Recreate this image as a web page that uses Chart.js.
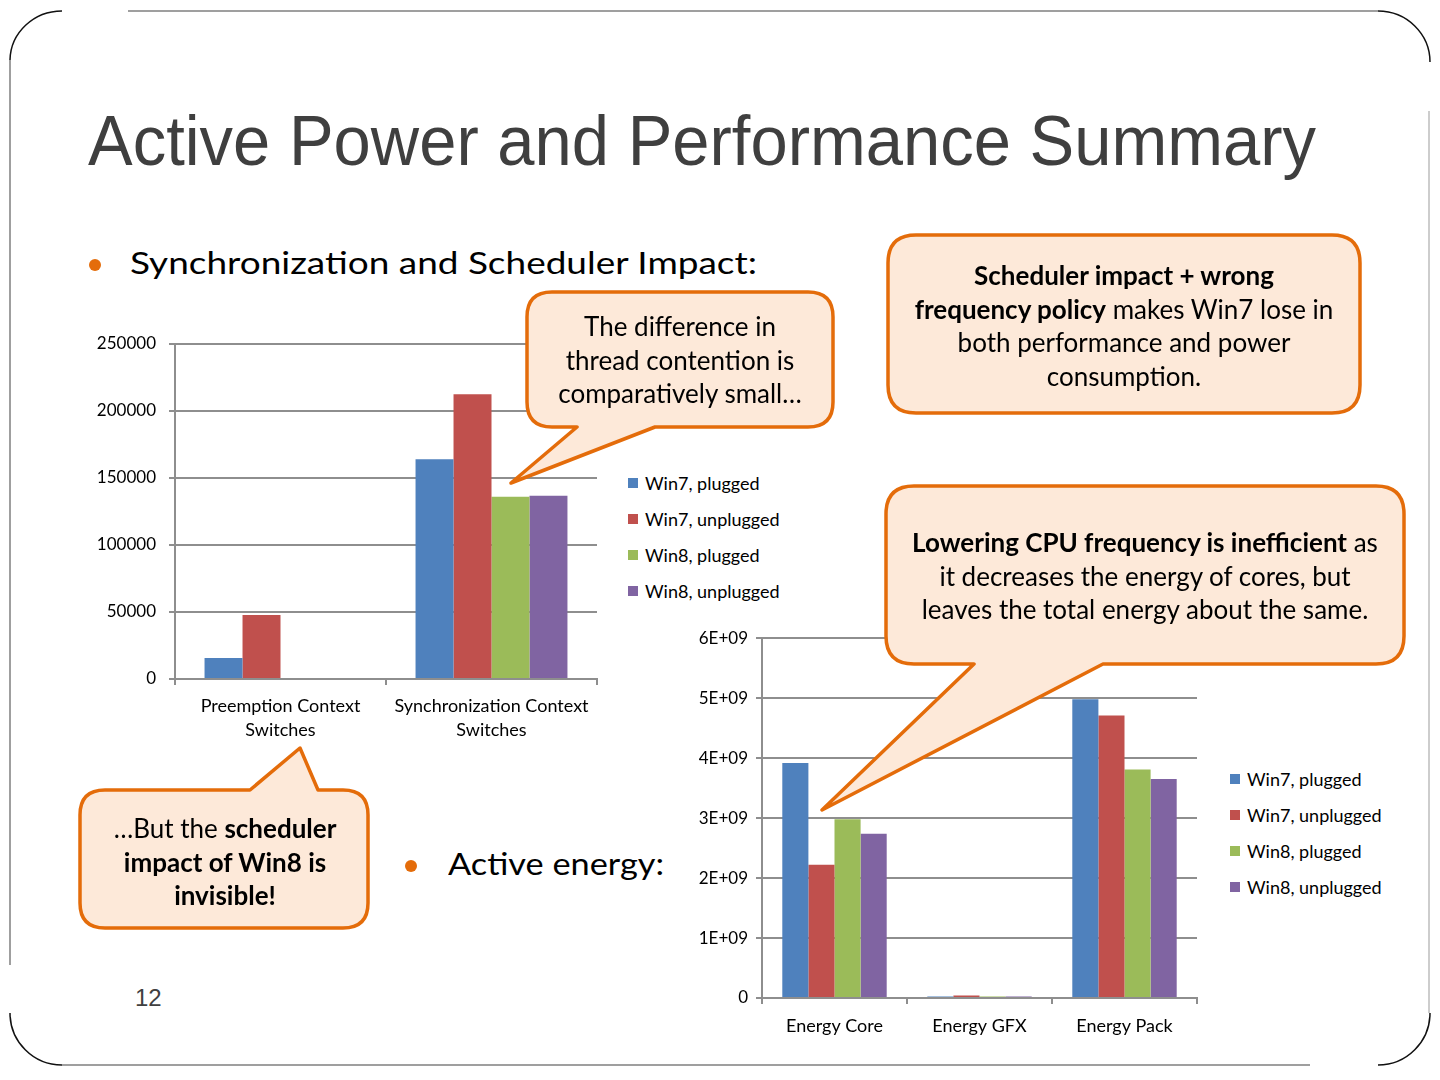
<!DOCTYPE html>
<html>
<head>
<meta charset="utf-8">
<script src="https://cdn.jsdelivr.net/npm/chart.js@4.4.1/dist/chart.umd.min.js"></script>
<style>
html,body{margin:0;padding:0;background:#fff;}
body{width:1440px;height:1080px;position:relative;overflow:hidden;font-family:Lato,sans-serif;}
#frame,#bubbles{position:absolute;left:0;top:0;}
#bubbles{z-index:3;}
.abs{position:absolute;white-space:nowrap;}
.fit{transform-origin:0 0;}
#title{left:88px;top:106px;font:70px/70px "Liberation Sans",sans-serif;color:#3f3f3f;}
.bul{font-size:30px;line-height:36px;color:#000;}
.dot{position:absolute;width:12px;height:12px;border-radius:50%;background:#e46c0a;}
.note{z-index:4;text-align:center;font-size:26px;line-height:33.5px;color:#000;}
.note b{font-weight:700;}
#pgnum{left:135px;top:983px;font:24px/30px "Liberation Sans",sans-serif;color:#404040;}
.cv{position:absolute;z-index:1;}
.legend{position:absolute;z-index:2;font-size:18px;color:#000;}
.legend div{height:36px;line-height:36px;position:relative;padding-left:17px;white-space:nowrap;}
.legend span{position:absolute;left:0;top:13px;width:10px;height:10px;}
</style>
</head>
<body>
<svg id="frame" width="1440" height="1080">
  <g fill="none" stroke-width="1.5">
    <path d="M10 60 V965" stroke="#7f7f7f"/>
    <path d="M10 60 A52 50 0 0 1 62 11" stroke="#111"/>
    <path d="M128 11 H1378" stroke="#7f7f7f"/>
    <path d="M1378 11 A52 51 0 0 1 1430 62" stroke="#111"/>
    <path d="M1429 111 V1013" stroke="#bdbdbd"/>
    <path d="M10 1013 A52 52 0 0 0 62 1065" stroke="#111"/>
    <path d="M62 1065 H1310" stroke="#7f7f7f"/>
    <path d="M1378 1065 A52 52 0 0 0 1430 1013" stroke="#111"/>
  </g>
</svg>

<div id="title" class="abs fit" data-w="1228">Active Power and Performance Summary</div>
<div class="dot" style="left:89px;top:259px"></div>
<div class="abs bul fit" data-w="627" style="left:130px;top:244px">Synchronization and Scheduler Impact:</div>
<div class="dot" style="left:405px;top:860px"></div>
<div class="abs bul fit" data-w="216" style="left:448px;top:845px">Active energy:</div>
<div id="pgnum" class="abs">12</div>

<canvas id="ctxChart" class="cv" style="left:90px;top:318px" width="520" height="432"></canvas>
<canvas id="energyChart" class="cv" style="left:680px;top:620px" width="540" height="430"></canvas>
<div id="legend1" class="legend" style="left:628px;top:465px"></div>
<div id="legend2" class="legend" style="left:1230px;top:761px"></div>

<svg id="bubbles" width="1440" height="1080">
  <g fill="#fde9d9" stroke="#e46c0a" stroke-width="3.5" stroke-linejoin="round">
    <path d="M552 292 H808 Q833 292 833 317 V402 Q833 427 808 427 H655 L511 483 L577 427 H552 Q527 427 527 402 V317 Q527 292 552 292 Z"/>
    <path d="M916 235 H1332 Q1360 235 1360 263 V385 Q1360 413 1332 413 H916 Q888 413 888 385 V263 Q888 235 916 235 Z"/>
    <path d="M914 486 H1376 Q1404 486 1404 514 V636 Q1404 664 1376 664 H1103 L822 810 L974 664 H914 Q886 664 886 636 V514 Q886 486 914 486 Z"/>
    <path d="M105 790 H250 L300 748 L318 790 H343 Q368 790 368 815 V903 Q368 928 343 928 H105 Q80 928 80 903 V815 Q80 790 105 790 Z"/>
  </g>
</svg>

<div class="abs note" style="left:530px;top:310px;width:300px">The difference in<br>thread contention is<br>comparatively small…</div>
<div class="abs note" style="left:889px;top:259px;width:470px"><b>Scheduler impact + wrong</b><br><b>frequency policy</b> makes Win7 lose in<br>both performance and power<br>consumption.</div>
<div class="abs note" style="left:890px;top:526px;width:510px"><b>Lowering CPU frequency is inefficient</b> as<br>it decreases the energy of cores, but<br>leaves the total energy about the same.</div>
<div class="abs note" style="left:85px;top:812px;width:280px">…But the <b>scheduler</b><br><b>impact of Win8 is</b><br><b>invisible!</b></div>

<script>
// --- data ---
const seriesNames = ['Win7, plugged','Win7, unplugged','Win8, plugged','Win8, unplugged'];
const seriesColors = ['#4f81bd','#c0504d','#9bbb59','#8064a2'];

const ctxCategories = [['Preemption Context','Switches'],['Synchronization Context','Switches']];
const ctxWin7Plugged   = [15600, 164000];
const ctxWin7Unplugged = [47800, 212500];
const ctxWin8Plugged   = [0, 136000];
const ctxWin8Unplugged = [0, 136800];
const ctxTicks = [0, 50000, 100000, 150000, 200000, 250000];

const energyCategories = ['Energy Core','Energy GFX','Energy Pack'];
const energyWin7Plugged   = [3.92e9, 2.5e7, 4.98e9];
const energyWin7Unplugged = [2.22e9, 4.0e7, 4.71e9];
const energyWin8Plugged   = [2.98e9, 2.5e7, 3.81e9];
const energyWin8Unplugged = [2.74e9, 2.5e7, 3.65e9];
const energyTicks = ['0','1E+09','2E+09','3E+09','4E+09','5E+09','6E+09'];

Chart.defaults.font.family = 'Lato, sans-serif';
Chart.defaults.color = '#000';
const GRID = '#8e8e8e';

function makeSets(lists){
  return lists.map((d,i)=>({label:seriesNames[i],data:d,backgroundColor:seriesColors[i],borderWidth:0,
    categoryPercentage:0.72,barPercentage:1.0}));
}

function barChart(id,labels,lists,yOpt,dims){
  let ch = new Chart(document.getElementById(id),{
    type:'bar',
    data:{labels:labels,datasets:makeSets(lists)},
    options:{
      responsive:false,animation:false,
      layout:{padding:{top:dims.top,right:dims.right,left:0,bottom:0}},
      plugins:{legend:{display:false},tooltip:{enabled:false}},
      scales:{
        x:{offset:true,
           grid:{offset:true,drawOnChartArea:false,drawTicks:true,tickLength:6,color:GRID,lineWidth:2},
           border:{color:GRID,width:2},
           ticks:{font:{size:18,lineHeight:1.35},padding:dims.xpad,maxRotation:0,autoSkip:false},
           afterFit:s=>{s.height=dims.xh;}},
        y:Object.assign({
           grid:{color:GRID,lineWidth:2,tickLength:6},
           border:{color:GRID,width:2},
           afterFit:s=>{s.width=dims.yw;}},yOpt)
      }
    }
  });
  // nudge padding until the plot area sits where the slide has it
  for(let k=0;k<4;k++){
    let a=ch.chartArea, p=ch.options.layout.padding;
    let dt=dims.top-a.top, dr=a.right-(ch.width-dims.right);
    if(Math.abs(dt)<0.5 && Math.abs(dr)<0.5) break;
    p.top=Math.max(0,p.top+dt); p.right+=dr; ch.update();
  }
  return ch;
}

barChart('ctxChart',ctxCategories,[ctxWin7Plugged,ctxWin7Unplugged,ctxWin8Plugged,ctxWin8Unplugged],
  {min:ctxTicks[0],max:ctxTicks[ctxTicks.length-1],
   ticks:{stepSize:ctxTicks[1]-ctxTicks[0],font:{size:17},padding:13,callback:v=>String(v)}},
  {top:26,right:13,xh:71,yw:85,xpad:9});

barChart('energyChart',energyCategories,[energyWin7Plugged,energyWin7Unplugged,energyWin8Plugged,energyWin8Unplugged],
  {min:0,max:6e9,
   ticks:{stepSize:1e9,font:{size:17},padding:8,callback:v=>energyTicks[Math.round(v/1e9)]}},
  {top:18,right:23,xh:52,yw:82,xpad:10});

// legends
['legend1','legend2'].forEach(id=>{
  document.getElementById(id).innerHTML=seriesNames.map((n,i)=>
    `<div><span style="background:${seriesColors[i]}"></span>${n}</div>`).join('');
});

// squeeze text to the reference widths
function fitAll(){
  document.querySelectorAll('.fit').forEach(el=>{
    let w=+el.dataset.w, cur=el.getBoundingClientRect().width;
    if(cur>0) el.style.transform='scaleX('+(w/cur)+')';
  });
}
if(document.fonts&&document.fonts.ready) document.fonts.ready.then(fitAll); else fitAll();
</script>
</body>
</html>
